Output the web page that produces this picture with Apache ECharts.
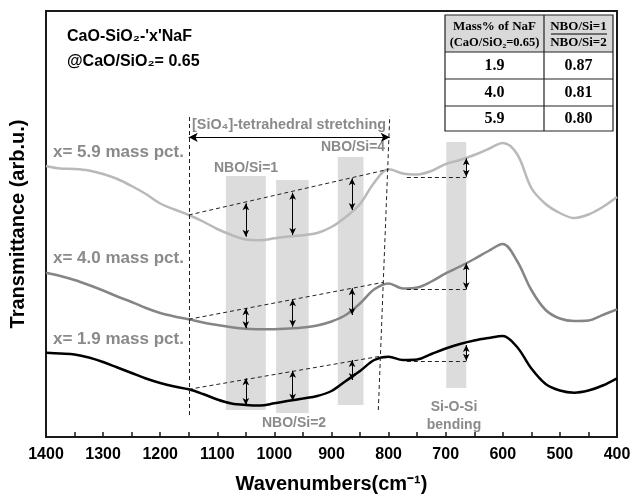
<!DOCTYPE html>
<html>
<head>
<meta charset="utf-8">
<script src="https://cdn.jsdelivr.net/npm/echarts@6/dist/echarts.min.js"></script>
<style>
  html, body { margin: 0; padding: 0; background: #fff; }
  #chart { width: 633px; height: 497px; }
</style>
</head>
<body>
<div id="chart"></div>
<script>
// wavenumber grid (cm-1), every 25 cm-1
const wavenumbers = [1400, 1375, 1350, 1325, 1300, 1275, 1250, 1225, 1200, 1175, 1150, 1125, 1100, 1075, 1050,
  1025, 1000, 975, 950, 925, 900, 875, 850, 825, 800, 775, 750, 725, 700, 675, 650, 625, 600, 575, 550, 525, 500,
  475, 450, 425, 400];

// transmittance (arb.u., offset stacked)
const naf59 = [271, 268.5, 268, 266.5, 263, 258, 251, 243, 233.5, 227.5, 222, 215.5, 208, 202, 197.5,
  196.7, 198.7, 200.5, 201.8, 204, 210, 220, 233, 254.5, 267.7, 263.5, 262.5, 266, 273, 277, 282, 288, 294, 283, 249, 233, 224,
  219, 222.5, 230, 240];
const naf40 = [164.3, 161, 157, 152, 146.5, 140.5, 135, 129, 124, 120.5, 117.7, 114.5, 112, 109.7, 108.2,
  107.8, 107.7, 108.5, 109.5, 111.5, 115.5, 122, 133.5, 147.7, 153.6, 148.5, 149.5, 155.5, 163.7, 170.5, 178, 186, 193, 176, 147, 127, 118.5,
  116, 116.5, 122, 127.7];
const naf19 = [84.3, 83.5, 82.5, 79.5, 75, 69.5, 64, 58.5, 54, 50.5, 47.7, 43, 37.5, 33.5, 32,
  31.5, 33.7, 36.2, 38.5, 41, 46, 56, 66, 77, 80.3, 77, 77.5, 83, 88.5, 93, 96.5, 99, 101, 90, 68.5, 53, 46.5,
  44.3, 46.5, 51.5, 58.7];

const seriesNames = ['x= 5.9 mass pct.', 'x= 4.0 mass pct.', 'x= 1.9 mass pct.'];
const seriesColors = ['#b9b9b9', '#858585', '#000000'];

// shaded bands [from, to] in cm-1 with their vertical extent
const bands = [[1085, 1015, 27, 261], [997, 940, 24, 257], [889, 844, 32, 280], [699, 664, 49, 295]];

// baselines used for the NBO/Si ratios
const baselines = [
  [[1150, 222], [800, 267.7]], [[768, 260], [664, 260]],
  [[1150, 117.7], [809, 154.7]], [[768, 147.7], [664, 147.7]],
  [[1150, 47.7], [812, 81]], [[768, 76], [664, 76]],
];
// double arrows: [wavenumber, low, high]
const depthArrows = [
  [1050, 200.3, 233.7], [968, 202, 244.3], [864, 227, 258.7], [664, 260.3, 278.7],
  [1050, 108.7, 128.7], [968, 110.3, 137.7], [864, 122, 148.7], [664, 147.7, 173.7],
  [1050, 32, 58.7], [968, 36.3, 66.3], [864, 57, 77], [664, 76.3, 92],
];

// inset table
const tableMass = ['1.9', '4.0', '5.9'];
const tableRatio = ['0.87', '0.81', '0.80'];

const grayText = '#8a8a8a';
const sans = 'Liberation Sans, Arial, sans-serif';
const serif = 'Liberation Serif, Times New Roman, serif';

const toPairs = (ys) => wavenumbers.map((w, i) => [w, ys[i]]);

const chart = echarts.init(document.getElementById('chart'));

const dashed = { color: '#222', width: 1, type: [4, 3] };

const markLines = [];
baselines.forEach((b) => {
  markLines.push([{ coord: b[0], lineStyle: dashed, symbol: 'none' }, { coord: b[1], symbol: 'none' }]);
});
depthArrows.forEach((a) => {
  markLines.push([
    { coord: [a[0], a[1]], lineStyle: { color: '#000', width: 1, type: 'solid' } },
    { coord: [a[0], a[2]] },
  ]);
});
// stretching range guides
markLines.push([{ coord: [1150, 22], lineStyle: dashed, symbol: 'none' }, { coord: [1150, 321], symbol: 'none' }]);
markLines.push([{ coord: [818, 27], lineStyle: dashed, symbol: 'none' }, { coord: [798, 321], symbol: 'none' }]);
markLines.push([
  { coord: [1150, 299.7], lineStyle: { color: '#000', width: 1.2, type: 'solid' }, symbolSize: [7, 9] },
  { coord: [798, 299.7], symbolSize: [7, 9] },
]);

const text = (t, x, y, opt) => ({
  type: 'text',
  z: 20,
  style: Object.assign({
    text: t, x, y, font: 'bold 16px ' + sans, fill: '#000',
    textAlign: 'left', textVerticalAlign: 'middle',
  }, opt || {}),
});

// table geometry
const tL = 445, tR = 613, tM = 544, tT = 15, tH = 52, rows = [52, 79, 106, 131];
const tableGraphics = [
  { type: 'rect', z: 15, shape: { x: tL, y: tT, width: tR - tL, height: tH - tT }, style: { fill: '#d9d9d9' } },
  { type: 'rect', z: 16, shape: { x: tL, y: tT, width: tR - tL, height: rows[3] - tT }, style: { fill: 'none', stroke: '#222', lineWidth: 1.2 } },
  { type: 'line', z: 16, shape: { x1: tM, y1: tT, x2: tM, y2: rows[3] }, style: { stroke: '#222', lineWidth: 1.2 } },
  { type: 'line', z: 16, shape: { x1: tL, y1: rows[0], x2: tR, y2: rows[0] }, style: { stroke: '#222', lineWidth: 1.2 } },
  { type: 'line', z: 16, shape: { x1: tL, y1: rows[1], x2: tR, y2: rows[1] }, style: { stroke: '#222', lineWidth: 1.2 } },
  { type: 'line', z: 16, shape: { x1: tL, y1: rows[2], x2: tR, y2: rows[2] }, style: { stroke: '#222', lineWidth: 1.2 } },
  text('Mass% of NaF', (tL + tM) / 2, 26.5, { font: 'bold 13px ' + serif, textAlign: 'center' }),
  text('(CaO/SiO₂=0.65)', (tL + tM) / 2, 43, { font: 'bold 12.5px ' + serif, textAlign: 'center' }),
  text('NBO/Si=1', (tM + tR) / 2, 26.5, { font: 'bold 13px ' + serif, textAlign: 'center' }),
  { type: 'line', z: 16, shape: { x1: 551, y1: 34, x2: 607, y2: 34 }, style: { stroke: '#000', lineWidth: 1 } },
  text('NBO/Si=2', (tM + tR) / 2, 43, { font: 'bold 13px ' + serif, textAlign: 'center' }),
];
tableMass.forEach((m, i) => {
  const cy = (rows[i] + rows[i + 1]) / 2;
  tableGraphics.push(text(m, (tL + tM) / 2, cy, { font: 'bold 16px ' + serif, textAlign: 'center' }));
  tableGraphics.push(text(tableRatio[i], (tM + tR) / 2, cy, { font: 'bold 16px ' + serif, textAlign: 'center' }));
});

const option = {
  animation: false,
  backgroundColor: '#fff',
  grid: {
    left: 46, right: 16, top: 11, bottom: 60,
    outerBoundsMode: 'none',
    containLabel: false,
    show: true, borderColor: '#1a1a1a', borderWidth: 2,
  },
  xAxis: {
    type: 'value',
    min: 400,
    max: 1400,
    interval: 50,
    inverse: true,
    name: 'Wavenumbers(cm⁻¹)',
    nameLocation: 'middle',
    nameGap: 37,
    nameTextStyle: { fontFamily: sans, fontWeight: 'bold', fontSize: 20, color: '#000' },
    axisLine: { lineStyle: { color: '#1a1a1a', width: 2 } },
    axisTick: { inside: true, length: 5, lineStyle: { color: '#1a1a1a', width: 1.5 } },
    axisLabel: {
      margin: 10,
      fontFamily: sans, fontWeight: 'bold', fontSize: 16, color: '#000',
      formatter: (v) => (v % 100 === 0 ? String(v) : ''),
    },
    splitLine: { show: false },
  },
  yAxis: {
    type: 'value',
    min: 0,
    max: 426,
    name: 'Transmittance (arb.u.)',
    nameLocation: 'middle',
    nameGap: 18,
    nameTextStyle: { fontFamily: sans, fontWeight: 'bold', fontSize: 20, color: '#000' },
    axisLine: { show: true, lineStyle: { color: '#1a1a1a', width: 2 } },
    axisTick: { show: false },
    axisLabel: { show: false },
    splitLine: { show: false },
  },
  series: [
    {
      // bands and annotation lines
      type: 'line',
      data: [],
      z: 1,
      silent: true,
      markArea: {
        silent: true,
        itemStyle: { color: '#dcdcdc' },
        data: bands.map((b) => [{ coord: [b[0], b[2]] }, { coord: [b[1], b[3]] }]),
      },
    },
    {
      type: 'line',
      data: [],
      z: 4,
      silent: true,
      markLine: {
        silent: true,
        animation: false,
        symbol: ['arrow', 'arrow'],
        symbolSize: [5, 7],
        label: { show: false },
        lineStyle: dashed,
        data: markLines,
      },
    },
    ...[naf59, naf40, naf19].map((ys, i) => ({
      name: seriesNames[i],
      type: 'line',
      data: toPairs(ys),
      smooth: 0.35,
      showSymbol: false,
      z: 3,
      lineStyle: { color: seriesColors[i], width: 2.5 },
    })),
  ],
  graphic: [
    text("CaO-SiO₂-'x'NaF", 67, 37),
    text('@CaO/SiO₂= 0.65', 67, 62),
    text(seriesNames[0], 53, 152, { fill: grayText, font: 'bold 17px ' + sans }),
    text(seriesNames[1], 53, 258, { fill: grayText, font: 'bold 17px ' + sans }),
    text(seriesNames[2], 53, 339, { fill: grayText, font: 'bold 17px ' + sans }),
    text('[SiO₄]-tetrahedral stretching', 289, 125, { fill: grayText, font: 'bold 14.4px ' + sans, textAlign: 'center' }),
    text('NBO/Si=1', 246, 168, { fill: grayText, font: 'bold 14px ' + sans, textAlign: 'center' }),
    text('NBO/Si=4', 353, 147, { fill: grayText, font: 'bold 14px ' + sans, textAlign: 'center' }),
    text('NBO/Si=2', 294, 423, { fill: grayText, font: 'bold 14px ' + sans, textAlign: 'center' }),
    text('Si-O-Si', 454, 407, { fill: grayText, font: 'bold 14px ' + sans, textAlign: 'center' }),
    text('bending', 454, 425, { fill: grayText, font: 'bold 14px ' + sans, textAlign: 'center' }),
    ...tableGraphics,
  ],
};

chart.setOption(option);
</script>
</body>
</html>
